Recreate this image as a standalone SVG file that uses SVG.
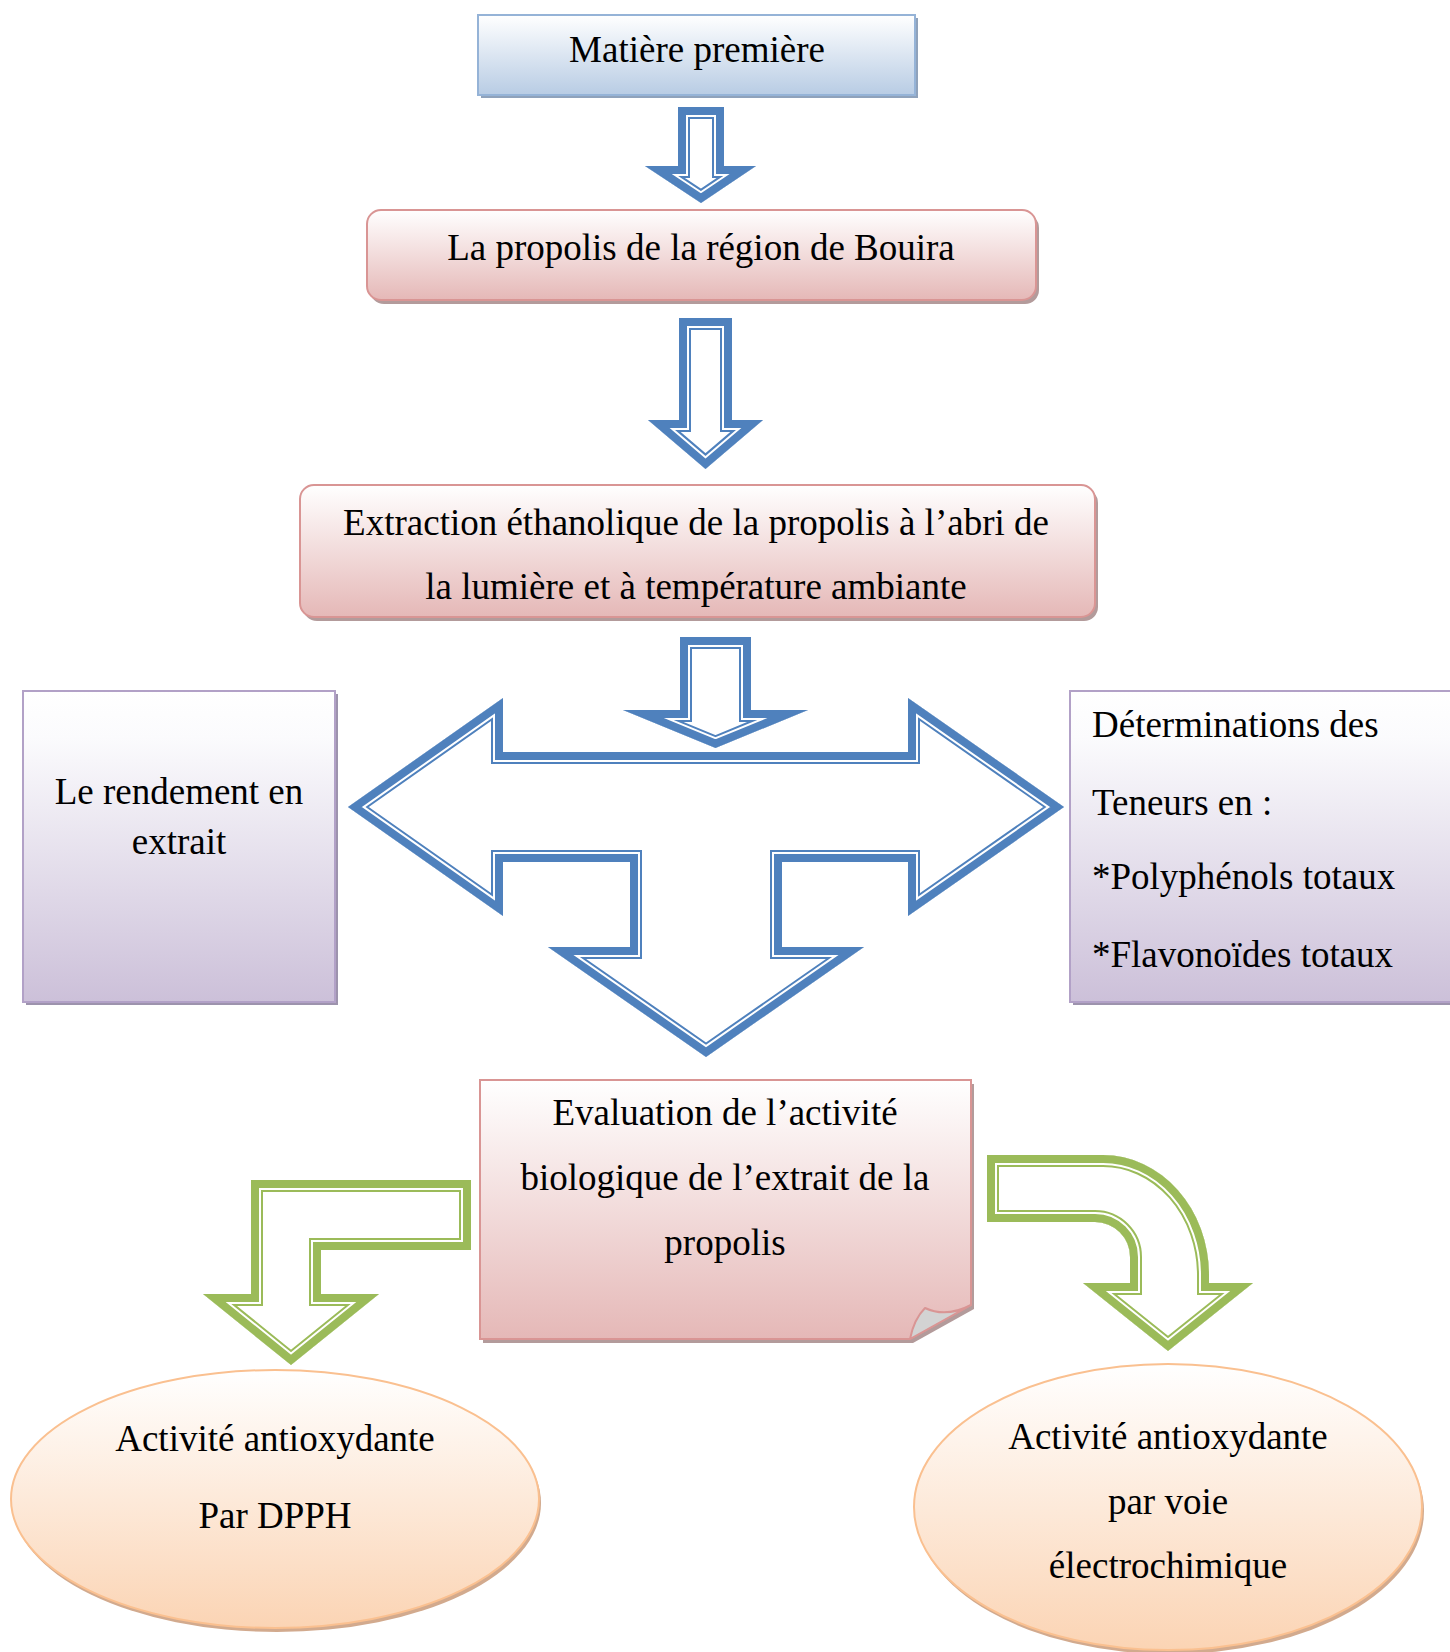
<svg xmlns="http://www.w3.org/2000/svg" xmlns:xlink="http://www.w3.org/1999/xlink" width="1450" height="1652" viewBox="0 0 1450 1652">
<style>
text{font-family:"Liberation Serif","Times New Roman",serif;font-size:37px;fill:#000}
.c{text-anchor:middle}
.o1{fill:none;stroke-width:24;stroke-linejoin:miter;stroke-miterlimit:10}
.o2{fill:none;stroke:#fff;stroke-width:20;stroke-linejoin:miter;stroke-miterlimit:10}
.o3{fill:none;stroke-width:16;stroke-linejoin:miter;stroke-miterlimit:10}
.blue .o1,.blue .o3{stroke:#4f81bd}
.green .o1,.green .o3{stroke:#9bbb59}
.wf{fill:#fff}
</style>
<defs>
<linearGradient id="gBlue" x1="0" y1="0" x2="0" y2="1"><stop offset="0" stop-color="#ffffff"/><stop offset="1" stop-color="#b8cce4"/></linearGradient>
<linearGradient id="gPink" x1="0" y1="0" x2="0" y2="1"><stop offset="0" stop-color="#ffffff"/><stop offset="1" stop-color="#e5b8b7"/></linearGradient>
<linearGradient id="gPurple" x1="0" y1="0" x2="0" y2="1"><stop offset="0" stop-color="#ffffff"/><stop offset="0.15" stop-color="#fbfbfd"/><stop offset="1" stop-color="#ccc0d9"/></linearGradient>
<linearGradient id="gPeach" x1="0" y1="0" x2="0" y2="1"><stop offset="0" stop-color="#ffffff"/><stop offset="1" stop-color="#fbd4b4"/></linearGradient>
<path id="a1" d="M678 107 H724 V166 H756 L701 203 L645 166 H678 Z"/>
<path id="a2" d="M679 318 H732 V420 H763 L705.5 469 L648 420 H679 Z"/>
<path id="a3" d="M680 637 H751 V710 H808 L715.5 748 L623 710 H680 Z"/>
<path id="aT" d="M503 752 V698 L348 807 L503 916 V862 H630 V947 H548 L706 1057 L864 947 H782 V862 H908 V916 L1064 807 L908 698 V752 Z"/>
<path id="aL" d="M251 1180 H471 V1250 H321 V1294 H379 L291 1365 L203 1294 H251 Z"/>
<path id="aR" d="M987 1155 H1103 A106 120 0 0 1 1209 1275 V1283 H1253 L1168 1351 L1083 1283 H1130 V1257 A35 35 0 0 0 1095 1222 H987 Z"/>
<clipPath id="c1"><use xlink:href="#a1" href="#a1"/></clipPath>
<clipPath id="c2"><use xlink:href="#a2" href="#a2"/></clipPath>
<clipPath id="c3"><use xlink:href="#a3" href="#a3"/></clipPath>
<clipPath id="cT"><use xlink:href="#aT" href="#aT"/></clipPath>
<clipPath id="cL"><use xlink:href="#aL" href="#aL"/></clipPath>
<clipPath id="cR"><use xlink:href="#aR" href="#aR"/></clipPath>
</defs>
<rect width="1450" height="1652" fill="#fff"/>

<g id="connectors">
 <g class="blue" clip-path="url(#c1)"><use href="#a1" class="wf"/><use href="#a1" class="o1"/><use href="#a1" class="o2"/><use href="#a1" class="o3"/></g>
 <g class="blue" clip-path="url(#c2)"><use href="#a2" class="wf"/><use href="#a2" class="o1"/><use href="#a2" class="o2"/><use href="#a2" class="o3"/></g>
 <g class="blue" clip-path="url(#c3)"><use href="#a3" class="wf"/><use href="#a3" class="o1"/><use href="#a3" class="o2"/><use href="#a3" class="o3"/></g>
 <g class="blue" clip-path="url(#cT)"><use href="#aT" class="wf"/><use href="#aT" class="o1"/><use href="#aT" class="o2"/><use href="#aT" class="o3"/></g>
 <g class="green" clip-path="url(#cL)"><use href="#aL" class="wf"/><use href="#aL" class="o1"/><use href="#aL" class="o2"/><use href="#aL" class="o3"/></g>
 <g class="green" clip-path="url(#cR)"><use href="#aR" class="wf"/><use href="#aR" class="o1"/><use href="#aR" class="o2"/><use href="#aR" class="o3"/></g>
</g>

<g id="matiere">
 <rect x="481" y="18" width="437" height="80" fill="#8fa2bb"/>
 <rect x="478" y="15" width="437" height="80" fill="url(#gBlue)" stroke="#95b3d7" stroke-width="2"/>
 <text x="697" y="62" class="c">Matière première</text>
</g>

<g id="propolis">
 <rect x="370" y="214" width="669" height="90" rx="14" fill="#b39b9b"/>
 <rect x="367" y="210" width="669" height="90" rx="14" fill="url(#gPink)" stroke="#d99594" stroke-width="2"/>
 <text x="701" y="260" class="c">La propolis de la région de Bouira</text>
</g>

<g id="extraction">
 <rect x="303" y="489" width="795" height="132" rx="14" fill="#b39b9b"/>
 <rect x="300" y="485" width="795" height="132" rx="14" fill="url(#gPink)" stroke="#d99594" stroke-width="2"/>
 <text x="696" y="535" class="c">Extraction éthanolique de la propolis à l’abri de</text>
 <text x="696" y="599" class="c">la lumière et à température ambiante</text>
</g>

<g id="rendement">
 <rect x="26" y="694" width="312" height="311" fill="#9d93ad"/>
 <rect x="23" y="691" width="312" height="311" fill="url(#gPurple)" stroke="#b2a1c7" stroke-width="2"/>
 <text x="179" y="804" class="c">Le rendement en</text>
 <text x="179" y="854" class="c">extrait</text>
</g>

<g id="determinations">
 <rect x="1073" y="694" width="400" height="311" fill="#9d93ad"/>
 <rect x="1070" y="691" width="400" height="311" fill="url(#gPurple)" stroke="#b2a1c7" stroke-width="2"/>
 <text x="1092" y="737">Déterminations des</text>
 <text x="1092" y="815">Teneurs en :</text>
 <text x="1092" y="889">*Polyphénols totaux</text>
 <text x="1092" y="967">*Flavonoïdes totaux</text>
</g>

<g id="evaluation">
 <path d="M483 1084 H974 V1309 L913 1343 H483 Z" fill="#b39b9b"/>
 <path d="M480 1080 H971 V1305 L910 1339 H480 Z" fill="url(#gPink)" stroke="#d99594" stroke-width="2"/>
 <path d="M910 1339 Q914 1319 925 1308 Q946 1318 971 1305 Z" fill="#d3d3d3" stroke="#d99594" stroke-width="2" stroke-linejoin="round"/>
 <text x="725" y="1125" class="c">Evaluation de l’activité</text>
 <text x="725" y="1190" class="c">biologique de l’extrait de la</text>
 <text x="725" y="1255" class="c">propolis</text>
</g>

<g id="dpph">
 <ellipse cx="277" cy="1503" rx="264" ry="129" fill="#d2aa8e"/>
 <ellipse cx="275" cy="1499" rx="264" ry="129" fill="url(#gPeach)" stroke="#fac090" stroke-width="2"/>
 <text x="275" y="1451" class="c">Activité antioxydante</text>
 <text x="275" y="1528" class="c">Par DPPH</text>
</g>

<g id="electrochimique">
 <ellipse cx="1170" cy="1511" rx="254" ry="143" fill="#d2aa8e"/>
 <ellipse cx="1168" cy="1507" rx="254" ry="143" fill="url(#gPeach)" stroke="#fac090" stroke-width="2"/>
 <text x="1168" y="1449" class="c">Activité antioxydante</text>
 <text x="1168" y="1514" class="c">par voie</text>
 <text x="1168" y="1578" class="c">électrochimique</text>
</g>
</svg>
